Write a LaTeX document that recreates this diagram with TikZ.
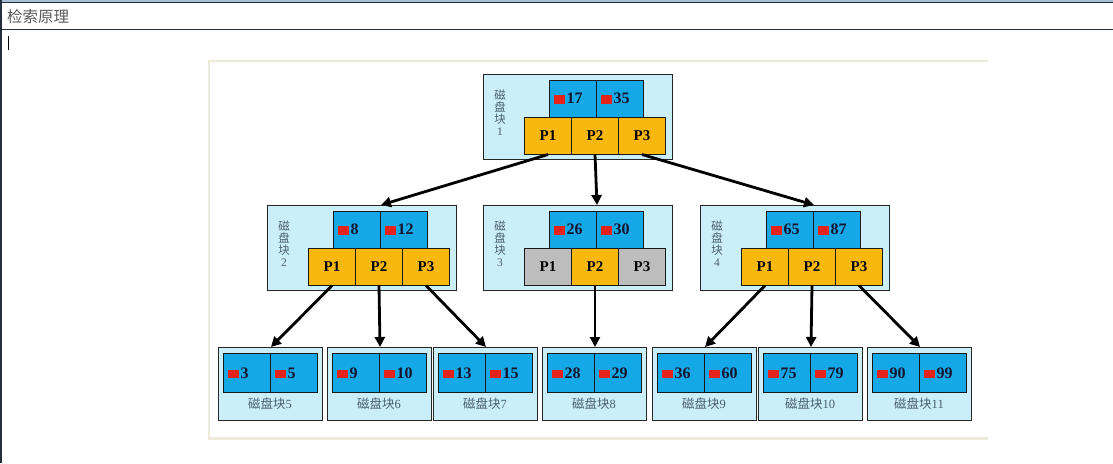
\documentclass[tikz,border=0pt]{standalone}
\usepackage{fontspec}
\setmainfont{Liberation Serif}
\newfontfamily\cjk{Noto Sans CJK SC}
\usetikzlibrary{arrows.meta}
\definecolor{outerfill}{HTML}{CBEFF8}
\definecolor{keyblue}{HTML}{14A8E6}
\definecolor{porange}{HTML}{F9B80E}
\definecolor{pgray}{HTML}{BDBDBD}
\definecolor{keyred}{HTML}{E5231B}
\definecolor{lblcol}{HTML}{4A5E6E}
\definecolor{beige}{HTML}{EEEBDC}
\definecolor{framedark}{HTML}{22303E}
\definecolor{topbar}{HTML}{A9BCD6}
\definecolor{titlegray}{HTML}{5A5A5A}
\definecolor{numcol}{HTML}{14142E}
\newcommand{\rsq}{\textcolor{keyred}{\rule{11pt}{8.5pt}}}

\tikzset{
  outerbox/.style={draw=black!85, line width=1.2pt, fill=outerfill, anchor=north west, inner sep=0pt, minimum width=189pt, minimum height=85pt},
  leafbox/.style={draw=black!85, line width=1.2pt, fill=outerfill, anchor=north west, inner sep=0pt, minimum width=104pt, minimum height=73pt},
  keycell/.style={draw=black!90, line width=1pt, fill=keyblue, anchor=north west, minimum height=37pt, inner xsep=4pt, inner ysep=0pt, text width=39pt, align=left, text=numcol, font=\bfseries\fontsize{16}{16}\selectfont},
  pcell/.style={draw=black!90, line width=1pt, fill=porange, anchor=north west, minimum width=47pt, minimum height=37pt, inner sep=0pt, font=\bfseries\fontsize{15}{15}\selectfont},
  vlabel/.style={anchor=north, align=center, font=\cjk\fontsize{11.5}{12}\selectfont, text=lblcol, inner sep=0pt},
  leaflab/.style={anchor=center, font=\fontsize{12.5}{12.5}\selectfont, text=lblcol, inner sep=0pt},
  arr/.style={line width=2.8pt, black, -{Triangle[length=10pt,width=10pt]}}
}

% internal node: name, keys-left x, outer top y, label number, key1, key2, P1 colour, P2 colour, P3 colour
\newcommand{\inode}[9]{%
  \node[outerbox] (#1) at (#2-66,#3) {};
  \node[vlabel] (#1lab) at (#2-49,#3+16) {磁\\盘\\块\\{\rmfamily #4}};
  \node[keycell] (#1k1) at (#2,#3+5.5) {\rsq\hspace{2pt}#5};
  \node[keycell] (#1k2) at (#2+47,#3+5.5) {\rsq\hspace{2pt}#6};
  \node[pcell, fill=#7] (#1p1) at (#2-25,#3+42.5) {P1};
  \node[pcell, fill=#8] (#1p2) at (#2+22,#3+42.5) {P2};
  \node[pcell, fill=#9] (#1p3) at (#2+69,#3+42.5) {P3};
}
% leaf: name, outer left x, key1, key2, number
\newcommand{\leafnode}[5]{%
  \node[leafbox] (#1) at (#2,347) {};
  \node[keycell, minimum height=39pt] (#1k1) at (#2+5,353) {\rsq\hspace{2pt}#3};
  \node[keycell, minimum height=39pt] (#1k2) at (#2+52,353) {\rsq\hspace{2pt}#4};
  \node[leaflab] (#1lab) at (#2+52,404) {{\cjk 磁盘块}#5};
}

\begin{document}
\begin{tikzpicture}[x=1pt,y=-1pt]
\useasboundingbox (0,0) rectangle (1113,463);
\fill[white] (0,0) rectangle (1113,463);
% window frame
\fill[topbar] (0,0) rectangle (1113,2);
\draw[framedark, line width=1pt] (0,2.5) -- (1113,2.5);
\draw[framedark, line width=1.5pt] (0,29.5) -- (1113,29.5);
\draw[framedark, line width=1.5pt] (0.75,0) -- (0.75,463);
\node[anchor=west, inner sep=0pt, font=\cjk\fontsize{15.5}{15.5}\selectfont, text=titlegray] (title) at (7,17) {检索原理};
\draw[black, line width=1pt] (8.5,36) -- (8.5,50);
% picture panel
\draw[beige, line width=1.5pt] (988,60.75) -- (208.75,60.75) -- (208.75,437);
\fill[beige] (208,436.5) rectangle (988,440);

% internal nodes
\inode{r}{549}{74}{1}{17}{35}{porange}{porange}{porange}
\inode{a}{333}{205}{2}{8}{12}{porange}{porange}{porange}
\inode{b}{549}{205}{3}{26}{30}{pgray}{porange}{pgray}
\inode{c}{766}{205}{4}{65}{87}{porange}{porange}{porange}

% leaves
\leafnode{la}{218}{3}{5}{5}
\leafnode{lb}{327}{9}{10}{6}
\leafnode{lc}{433}{13}{15}{7}
\leafnode{ld}{542}{28}{29}{8}
\leafnode{le}{652}{36}{60}{9}
\leafnode{lf}{758}{75}{79}{10}
\leafnode{lg}{867}{90}{99}{11}

% arrows
\draw[arr] (rp1.south) -- (ak1.east |- a.north);
\draw[arr] (rp2.south) -- (bk1.east |- b.north);
\draw[arr] (rp3.south) -- (ck1.east |- c.north);
\draw[arr] (ap1.south) -- (lak1.east |- la.north);
\draw[arr] (ap2.south) -- (lbk1.east |- lb.north);
\draw[arr] (ap3.south) -- (lck1.east |- lc.north);
\draw[arr] (bp2.south) -- (ldk1.east |- ld.north);
\draw[arr] (cp1.south) -- (lek1.east |- le.north);
\draw[arr] (cp2.south) -- (lfk1.east |- lf.north);
\draw[arr] (cp3.south) -- (lgk1.east |- lg.north);
\end{tikzpicture}
\end{document}
